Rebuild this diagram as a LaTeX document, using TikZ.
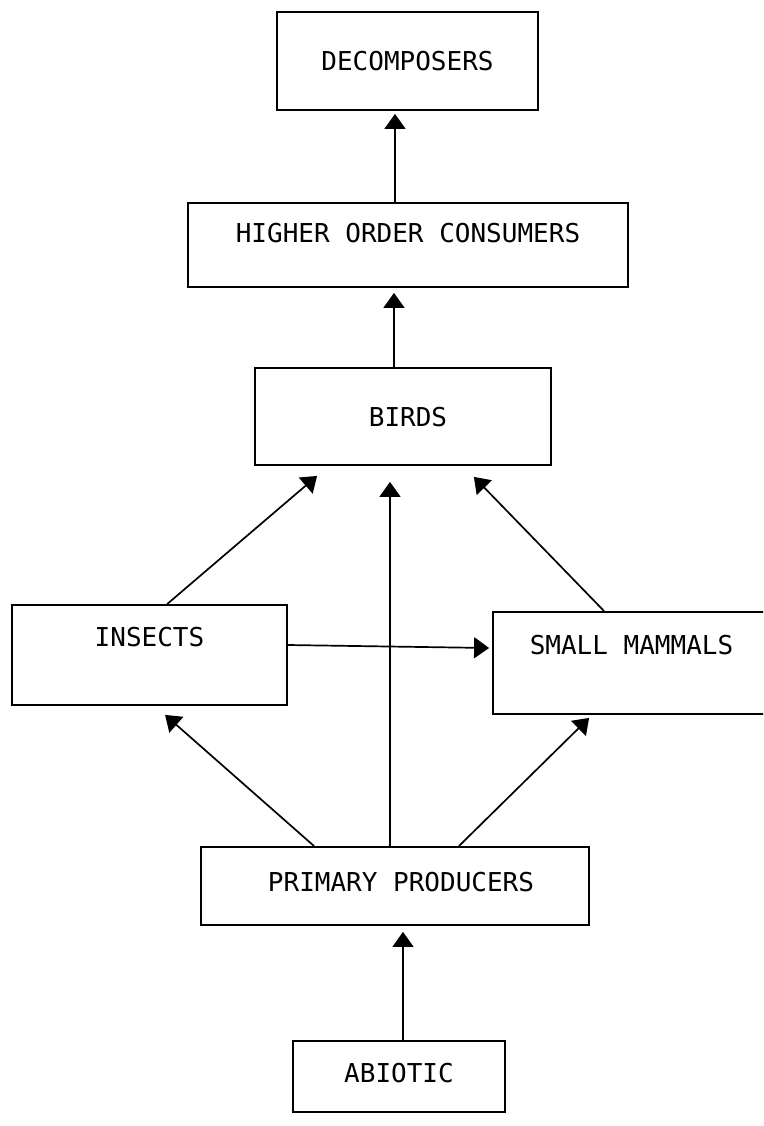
\documentclass[tikz,border=0pt]{standalone}
\usepackage{fontspec}
\newfontfamily\boxfont{DejaVu Sans Mono}
\usetikzlibrary{arrows.meta,calc}
\begin{document}
\begin{tikzpicture}[x=1pt,y=1pt,
  level/.style={draw, line width=1.8pt, inner sep=0pt, font=\boxfont\fontsize{26}{26}\selectfont,
    text height=19pt, align=center},
  flow/.style={line width=1.7pt, -{Triangle[width=21pt,length=15pt]}},
]
\useasboundingbox (0,0) rectangle (763,-1126);
\clip (0,0) rectangle (763,-1126);

% trophic levels
\node[level, minimum width=261pt, minimum height=98pt, text depth=0pt] (dec) at (407.5,-61) {DECOMPOSERS};
\node[level, minimum width=440pt, minimum height=84pt, text depth=24pt] (hoc) at (408,-245) {HIGHER ORDER CONSUMERS};
\node[level, minimum width=296pt, minimum height=97pt, text depth=0pt] (birds) at (403,-416.5) {\hspace*{10pt}BIRDS};
\node[level, minimum width=275pt, minimum height=100pt, text depth=36pt] (insects) at (149.5,-655) {INSECTS};
\node[level, minimum width=277pt, minimum height=102pt, text depth=36pt] (mammals) at (631.5,-663) {SMALL MAMMALS};
\node[level, minimum width=388pt, minimum height=78pt, text depth=8pt] (pp) at (395,-886) {\hspace*{12pt}PRIMARY PRODUCERS};
\node[level, minimum width=212pt, minimum height=71pt, text depth=8pt] (abiotic) at (399,-1076.5) {ABIOTIC};

% energy flow
\draw[flow] ($(hoc.north)+(-13,0)$) -- ($(dec.south)+(-12.5,-3)$);
\draw[flow] ($(birds.north)+(-9,0)$) -- ($(hoc.south)+(-14,-5)$);
\draw[flow] ($(insects.north west)+(156,0)$) -- ($(birds.south west)+(63,-10)$);
\draw[flow] ($(pp.north)+(-5,0)$) -- ($(birds.south)+(-13,-16)$);
\draw[flow] ($(mammals.north west)+(112,0)$) -- ($(birds.south east)+(-78,-11)$);
\draw[flow] ($(insects.east)+(0,10)$) -- ($(mammals.west)+(-3,15)$);
\draw[flow] ($(pp.north west)+(114,0)$) -- ($(insects.south west)+(154,-9)$);
\draw[flow] ($(pp.north east)+(-131,0)$) -- ($(mammals.south west)+(97,-3)$);
\draw[flow] (abiotic.north) ++(4,0) -- ($(pp.south)+(8,-6)$);
\end{tikzpicture}
\end{document}
